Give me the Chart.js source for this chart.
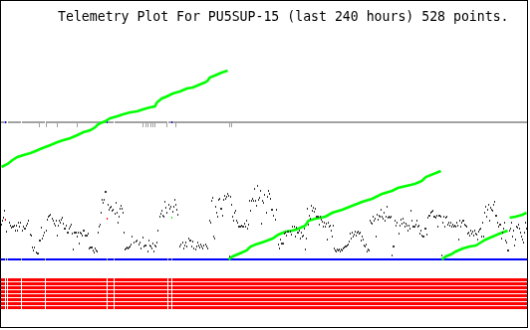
<!DOCTYPE html>
<html>
<head>
<meta charset="utf-8">
<script src="https://cdn.jsdelivr.net/npm/chart.js@4/dist/chart.umd.min.js"></script>
<style>
  body { margin: 0; background: #fff; }
  #plot { display: block; border: 1px solid #000; }
</style>
</head>
<body>
<canvas id="plot" width="528" height="328"></canvas>
<script>
const TITLE = 'Telemetry Plot For PU5SUP-15 (last 240 hours) 528 points.';
const SAMPLE_COUNT = 528;

// samples with no digital data (white columns in the bit stripes)
const gapSamples = [5, 7, 21, 45, 107, 114, 168, 172];

// analog channel 1 (grey), nearly flat
const grayLevel = 138;
const grayDipSamples = [39, 46, 57, 77, 143, 146, 148, 151, 153, 155, 167, 176, 230, 232];
const grayDipLevel = 135;
const grayMarkSamples = [5, 107, 172];

// analog channel 2 (blue), always zero
const blueLevel = 0;

// digital bits B1..B8
const bitStates = [1, 1, 1, 1, 1, 1, 1, 1];

// analog channel 3 (green), a counter that wraps around
const greenRamps = [
  [[1, 93], [7, 96], [12, 100], [17, 103], [23, 105], [30, 107], [35, 109], [42, 112], [50, 115],
   [57, 118], [63, 120], [70, 122], [77, 125], [83, 128], [90, 130], [95, 133], [98, 136], [100, 137],
   [105, 139], [110, 142], [117, 144], [123, 146], [130, 148], [137, 149], [143, 151], [150, 153],
   [155, 154], [157, 158], [162, 162], [167, 164], [173, 167], [180, 169], [187, 172], [193, 173],
   [200, 176], [205, 178], [208, 180], [210, 183], [215, 185], [222, 188], [228, 190]],
  [[229, 0], [233, 3], [240, 6], [247, 9], [251, 13], [256, 15], [265, 18], [273, 21], [279, 25],
   [286, 28], [293, 29], [299, 31], [306, 34], [309, 39], [316, 41], [326, 43], [333, 47], [343, 50],
   [353, 54], [363, 58], [373, 61], [383, 66], [393, 69], [399, 72], [416, 76], [423, 79], [427, 83],
   [442, 89]],
  [[443, 0], [447, 3], [452, 5], [457, 8], [464, 11], [471, 13], [477, 14], [482, 17], [487, 20],
   [494, 23], [501, 26], [509, 29]],
  [[511, 42], [517, 43], [524, 45], [528, 47]],
];

// analog channel 4 (dark dots), [sample, value]
const darkPoints = [
  [1, 35], [2, 39], [3, 42], [4, 49], [6, 28], [9, 37], [10, 34], [11, 32], [12, 33], [13, 33],
  [14, 34], [15, 29], [16, 34], [17, 29], [18, 37], [19, 33], [20, 37], [22, 29], [23, 33], [24, 31],
  [25, 31], [26, 34], [27, 36], [28, 39], [30, 25], [31, 24], [32, 12], [33, 9], [34, 12], [36, 7],
  [37, 6], [38, 6], [39, 19], [40, 19], [41, 32], [42, 21], [43, 24], [44, 27], [46, 29], [47, 40],
  [48, 43], [49, 44], [50, 45], [52, 41], [53, 39], [54, 36], [55, 34], [56, 39], [57, 24], [58, 34],
  [59, 39], [60, 37], [61, 40], [62, 42], [63, 36], [64, 31], [65, 31], [66, 34], [67, 27], [68, 27],
  [69, 31], [70, 33], [71, 35], [72, 26], [73, 10], [74, 27], [75, 27], [76, 27], [77, 23], [78, 27],
  [79, 16], [80, 27], [81, 26], [82, 24], [83, 29], [84, 29], [85, 24], [86, 24], [87, 24], [88, 26],
  [89, 11], [90, 12], [91, 12], [92, 12], [93, 9], [94, 7], [95, 11], [96, 9], [97, 8], [98, 27],
  [99, 33], [100, 35], [101, 47], [102, 60], [103, 57], [104, 60], [105, 68], [106, 68], [108, 55],
  [109, 50], [110, 52], [111, 53], [112, 49], [113, 50], [115, 46], [116, 57], [117, 47], [118, 37],
  [119, 43], [120, 51], [121, 54], [122, 51], [123, 47], [124, 27], [125, 10], [126, 11], [127, 12],
  [128, 11], [129, 12], [130, 13], [131, 15], [132, 23],
  [134, 17], [136, 18], [137, 19], [139, 15], [140, 17], [141, 11], [143, 22], [144, 13], [145, 14],
  [146, 14], [148, 8], [149, 19], [150, 14], [151, 13], [152, 11], [153, 16], [154, 8], [155, 14],
  [156, 13], [157, 17], [158, 29], [160, 43], [161, 46], [162, 49], [163, 44], [164, 43], [165, 58],
  [166, 52], [167, 47], [169, 55], [170, 51], [171, 53], [173, 48], [174, 53], [175, 60], [176, 55],
  [177, 50], [178, 45], [180, 13], [181, 15], [183, 17], [184, 11], [185, 14], [186, 17], [187, 13],
  [189, 21], [190, 19], [191, 19], [192, 13], [193, 18], [194, 11], [196, 10], [197, 13], [198, 17],
  [199, 14], [200, 12], [201, 15], [202, 13], [203, 11], [204, 14], [206, 15], [207, 13], [208, 11],
  [210, 39], [211, 37], [212, 59], [213, 62], [214, 23], [215, 21], [216, 53], [217, 47], [218, 43],
  [219, 60], [220, 61], [221, 51], [222, 51], [223, 44], [224, 60], [225, 64], [226, 61], [227, 63],
  [228, 66], [229, 64], [230, 3], [231, 63], [232, 55], [233, 43], [234, 39], [235, 47], [236, 49],
  [237, 39], [238, 37], [239, 33], [240, 33], [241, 33], [242, 34], [243, 33], [244, 33], [245, 36],
  [246, 33], [247, 39], [248, 31], [249, 35], [250, 59], [251, 49], [252, 59], [253, 61], [254, 59],
  [255, 71], [256, 59], [257, 54], [258, 74], [259, 60], [260, 62], [261, 69], [262, 36], [263, 59],
  [264, 57], [265, 65],
  [267, 47], [268, 63], [269, 69], [270, 66], [271, 61], [272, 50], [273, 50], [274, 44], [276, 40],
  [277, 50], [279, 15], [280, 11], [281, 20], [282, 16], [283, 16], [284, 16], [285, 26], [286, 27],
  [287, 24], [288, 28], [289, 28], [291, 28], [292, 25], [293, 33], [295, 33], [296, 23], [297, 32],
  [298, 27], [299, 27], [300, 29], [301, 21], [302, 27], [303, 23], [304, 24], [305, 31], [306, 10],
  [307, 21], [308, 51], [309, 35], [310, 44], [311, 41], [312, 54], [313, 49], [314, 52], [315, 48],
  [316, 51], [317, 43], [318, 43], [319, 43], [320, 35], [321, 43], [322, 40], [323, 38], [324, 33],
  [325, 37], [326, 33], [327, 36], [328, 20], [329, 37], [330, 33], [331, 34], [332, 29], [333, 23],
  [334, 34], [335, 11], [336, 9], [337, 8], [338, 10], [339, 9], [340, 10], [341, 8], [342, 10],
  [343, 9], [344, 11], [345, 12], [346, 13], [347, 13], [348, 14], [349, 15], [350, 18], [351, 26],
  [352, 21], [353, 27], [354, 23], [355, 25], [356, 28], [357, 24], [358, 27], [359, 28], [360, 26],
  [361, 27], [362, 19], [363, 23], [364, 20], [365, 14], [366, 13], [367, 15], [368, 8], [369, 10],
  [370, 9], [371, 39], [372, 37], [373, 36], [374, 43], [375, 39], [376, 41], [377, 23], [378, 45],
  [379, 40], [380, 44], [381, 43], [382, 50], [383, 43], [384, 41], [385, 47], [386, 39], [387, 43],
  [388, 53], [389, 42], [390, 43], [391, 42], [392, 43], [393, 4], [394, 13], [395, 13], [396, 39],
  [397, 34], [398, 37],
  [400, 26], [401, 34], [402, 40], [403, 36], [404, 41], [405, 37], [406, 33], [407, 36], [408, 34],
  [409, 29], [410, 34], [411, 31], [412, 49], [413, 39], [414, 33], [415, 33], [416, 33], [417, 35],
  [418, 39], [419, 33], [420, 34], [421, 26], [422, 29], [423, 24], [424, 23], [425, 23], [426, 31],
  [427, 31], [428, 25], [429, 42], [430, 44], [431, 44], [432, 47], [433, 48], [434, 49], [435, 43],
  [436, 43], [437, 42], [438, 44], [439, 33], [440, 44], [441, 44], [442, 43], [443, 4], [444, 37],
  [445, 43], [446, 33], [447, 42], [448, 43], [449, 35], [450, 37], [451, 34], [452, 37], [453, 33],
  [454, 35], [455, 33], [456, 34], [457, 33], [458, 37], [459, 34], [460, 20], [461, 39], [462, 33],
  [463, 37], [464, 39], [465, 39], [466, 35], [467, 34], [468, 33], [469, 26], [470, 27], [471, 24],
  [472, 29], [473, 26], [474, 28], [475, 24], [476, 29], [477, 26], [478, 25], [479, 20], [480, 28],
  [481, 30], [482, 31], [483, 23], [484, 37], [485, 23], [486, 47], [487, 53], [488, 43], [489, 50],
  [490, 55], [491, 39], [492, 52], [493, 50], [494, 49], [495, 55], [496, 58], [497, 44], [498, 44],
  [499, 37], [500, 33], [501, 35], [502, 35], [503, 21], [504, 27], [505, 31], [506, 37], [507, 19],
  [508, 17], [509, 9], [510, 9], [511, 29], [512, 31], [513, 37], [514, 23], [515, 29], [516, 14],
  [517, 20], [518, 33], [519, 32], [520, 35], [521, 31], [522, 27], [523, 23], [524, 20], [525, 17],
  [526, 27], [527, 37], [528, 31],
];
// the same channel at gap samples, drawn in other colours
const darkGapSamples = [5, 107, 172];
const darkGapValues = [40, 41, 42];

function dataRuns() {
  const runs = [];
  let start = 1;
  gapSamples.forEach(g => {
    if (g > start) runs.push([start, g - 1]);
    start = g + 1;
  });
  if (start <= SAMPLE_COUNT) runs.push([start, SAMPLE_COUNT]);
  return runs;
}

// flat line over every sample, broken at the gaps
function levelLine(value) {
  const pts = [];
  dataRuns().forEach(([a, b]) => {
    pts.push({x: a - 0.5, y: value}, {x: b + 0.5, y: value}, {x: b + 0.5, y: null});
  });
  return pts;
}

function marks(samples, value) {
  return samples.map(s => ({x: s, y: value}));
}

function lineSet(data, color, width, order, axis = 'y') {
  return {
    data: data,
    yAxisID: axis,
    borderColor: color,
    borderWidth: width,
    pointRadius: 0,
    spanGaps: false,
    tension: 0,
    order: order,
  };
}

function markSet(data, color, radius, order) {
  return {
    data: data,
    showLine: false,
    borderColor: color,
    pointBorderColor: color,
    pointStyle: 'line',
    pointRotation: 90,
    pointRadius: radius,
    pointHoverRadius: radius,
    pointBorderWidth: 1,
    order: order,
  };
}

const greenData = [];
greenRamps.forEach(ramp => {
  ramp.forEach(([x, y]) => greenData.push({x, y}));
  greenData.push({x: ramp[ramp.length - 1][0], y: null});
});

const datasets = [
  markSet(darkPoints.map(([x, y]) => ({x, y})), '#333333', 1, 0),
  markSet(darkGapSamples.map((s, i) => ({x: s, y: darkGapValues[i]})), ['#ff0000', '#ff0000', '#00ff00'], 1, 1),
  lineSet(greenData, '#00ff00', 2.6, 2),
  markSet(marks(grayMarkSamples, grayLevel), '#0000ff', 1, 3),
  markSet(marks(gapSamples, blueLevel), '#a0a0a0', 1, 3),
  markSet(marks(grayDipSamples, grayDipLevel), '#a0a0a0', 2, 4),
  lineSet(levelLine(grayLevel), '#a0a0a0', 2, 5),
  lineSet(levelLine(blueLevel), '#0000ff', 2, 6),
];
bitStates.forEach((state, i) => {
  if (state) datasets.push(lineSet(levelLine(i + 1), '#ff0000', 3, 7, 'bits'));
});

const titlePlugin = {
  id: 'plotTitle',
  afterDraw(chart) {
    const ctx = chart.ctx;
    ctx.save();
    ctx.font = '13.2px "DejaVu Sans Mono"';
    ctx.fillStyle = '#000';
    ctx.textBaseline = 'alphabetic';
    ctx.fillText(TITLE, 57, 20);
    ctx.restore();
  },
};

new Chart(document.getElementById('plot'), {
  type: 'line',
  data: {datasets: datasets},
  options: {
    responsive: false,
    animation: false,
    events: [],
    layout: {padding: 0, autoPadding: false},
    scales: {
      x: {type: 'linear', min: 0.5, max: 528.5, display: false},
      y: {type: 'linear', min: -68, max: 260, display: false},
      bits: {type: 'linear', min: -69.125, max: 12.875, reverse: true, display: false},
    },
    plugins: {
      legend: {display: false},
      tooltip: {enabled: false},
      title: {display: false},
    },
  },
  plugins: [titlePlugin],
});
</script>
</body>
</html>
